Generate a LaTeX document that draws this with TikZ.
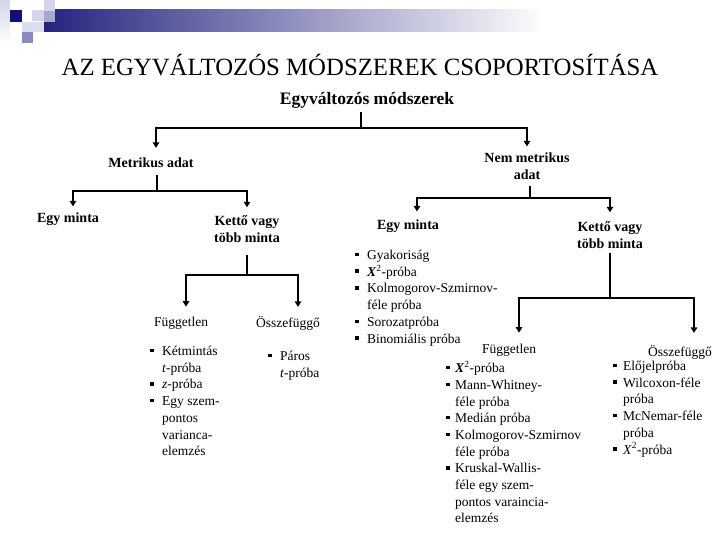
\documentclass[tikz,border=0pt]{standalone}
\usepackage{fontspec}
\setmainfont{Liberation Serif}
\usetikzlibrary{positioning,arrows.meta}

\definecolor{navy}{HTML}{10107A}
\definecolor{barnavy}{HTML}{24247E}
\definecolor{lavA}{HTML}{D4D4EC}
\definecolor{lavB}{HTML}{A8A8D2}
\definecolor{lavC}{HTML}{8A8AC0}

\newcommand{\bul}[1][12pt]{\makebox[#1][l]{\rule[3.3pt]{3.5pt}{3.5pt}}}
\newcommand{\ind}[1][12pt]{\hspace*{#1}}
\newcommand{\khi}{\textbf{\textit{X}}\textsuperscript{2}}

\begin{document}
\begin{tikzpicture}[x=1pt,y=-1pt,
    arrow/.style={-{Triangle[width=6.5pt,length=5.5pt]}, line width=2.1pt},
    head/.style={font=\bfseries\fontsize{14}{17}\selectfont, align=center, inner sep=1pt},
    leaf/.style={font=\fontsize{13.5}{16.7}\selectfont, inner sep=1pt},
    items/.style={font=\fontsize{13.5}{16.7}\selectfont, align=left, anchor=north west, inner sep=0pt}
]
\useasboundingbox (0,0) rectangle (720,540);

% --- Díszítés a bal felső sarokban ---
\shade[top color=lavA, bottom color=white] (0,0) rectangle (10,43);
\shade[left color=barnavy, right color=white!94!lavA] (44,10) rectangle (540,32);
\fill[navy] (10,10) rectangle (22,22);
\fill[lavA] (32,10) rectangle (44,21);
\fill[lavA] (44,0) rectangle (55,11);
\fill[lavB] (44,11) rectangle (55,22);
\fill[lavA!80!white] (22,22) rectangle (44,32);
\fill[lavC] (22,32) rectangle (33,43);

% --- Cím és gyökér ---
\node[font=\fontsize{24.8}{30}\selectfont] (title) at (360,65) {AZ EGYVÁLTOZÓS MÓDSZEREK CSOPORTOSÍTÁSA};
\node[head, font=\bfseries\fontsize{17.5}{20}\selectfont] (egyv) at (367,100) {Egyváltozós módszerek};

% --- Első szint ---
\node[head] (metr) at (151,163) {Metrikus adat};
\node[head] (nemm) at (527,166) {Nem metrikus\\adat};

% --- Második szint ---
\node[head] (egyL) at (68,219) {Egy minta};
\node[head] (kettL) at (247,229) {Kettő vagy\\több minta};
\node[head] (egyR) at (408,226) {Egy minta};
\node[head] (kettR) at (610,235) {Kettő vagy\\több minta};

% --- Harmadik szint ---
\node[leaf] (fuggL) at (181,323) {Független};
\node[leaf] (osszL) at (288,323) {Összefüggő};
\node[leaf] (fuggR) at (509,350) {Független};
\node[leaf] (osszR) at (680,352) {Összefüggő};

% --- Próbák listái ---
\node[items] (listL) at (150,346) {\bul Kétmintás\\ \ind\textit{t}-próba\\ \bul\textit{z}-próba\\ \bul Egy szem-\\ \ind pontos\\ \ind varianca-\\ \ind elemzés};
\node[items] (listP) at (268,351) {\bul Páros\\ \ind\textit{t}-próba};
\node[items] (listM) at (355,250) {\bul Gyakoriság\\ \bul\khi-próba\\ \bul Kolmogorov-Szmirnov-\\ \ind féle próba\\ \bul Sorozatpróba\\ \bul Binomiális próba};
\node[items] (listF) at (446,361) {\bul[9pt]\khi-próba\\ \bul[9pt]Mann-Whitney-\\ \ind[9pt]féle próba\\ \bul[9pt]Medián próba\\ \bul[9pt]Kolmogorov-Szmirnov\\ \ind[9pt]féle próba\\ \bul[9pt]Kruskal-Wallis-\\ \ind[9pt]féle egy szem-\\ \ind[9pt]pontos varaincia-\\ \ind[9pt]elemzés};
\node[items] (listO) at (613,361) {\bul[10pt]Előjelpróba\\ \bul[10pt]Wilcoxon-féle\\ \ind[10pt]próba\\ \bul[10pt]McNemar-féle\\ \ind[10pt]próba\\ \bul[10pt]\textit{X}\textsuperscript{2}-próba};

% --- Összekötések ---
\draw[arrow, shorten <=3pt, shorten >=9pt] ([xshift=-6pt]egyv.south) -- ++(0,19) -| ([xshift=5pt]metr.north);
\draw[arrow, shorten <=3pt, shorten >=5pt] ([xshift=-6pt]egyv.south) -- ++(0,19) -| (nemm.north);
\draw[arrow, shorten <=6pt, shorten >=5pt] ([xshift=6pt]metr.south) -- ++(0,22) -| ([xshift=5pt]egyL.north);
\draw[arrow, shorten <=6pt, shorten >=7pt] ([xshift=6pt]metr.south) -- ++(0,22) -| (kettL.north);
\draw[arrow, shorten <=5pt, shorten >=7pt] ([xshift=3pt]nemm.south) -- ++(0,17) -| ([xshift=9pt]egyR.north);
\draw[arrow, shorten <=5pt, shorten >=8pt] ([xshift=3pt]nemm.south) -- ++(0,17) -| (kettR.north);
\draw[arrow, shorten <=11pt, shorten >=9pt] (kettL.south) -- ++(0,31) -| ([xshift=5pt]fuggL.north);
\draw[arrow, shorten <=11pt, shorten >=8pt] (kettL.south) -- ++(0,31) -| ([xshift=10pt]osszL.north);
\draw[arrow, shorten <=3pt, shorten >=10pt] (kettR.south) -- ++(0,48) -| ([xshift=10pt]fuggR.north);
\draw[arrow, shorten <=3pt, shorten >=11pt] (kettR.south) -- ++(0,48) -| ([xshift=14pt]osszR.north);

\end{tikzpicture}
\end{document}
